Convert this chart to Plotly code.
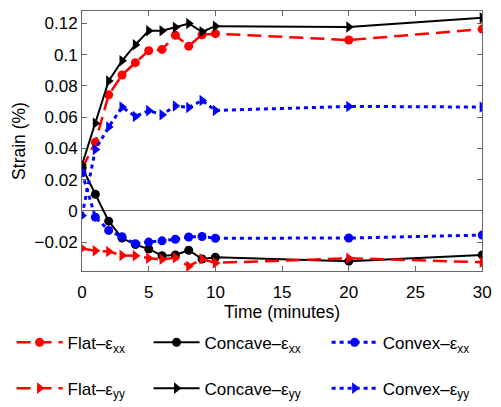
import plotly.graph_objects as go

t = [0, 1, 2, 3, 4, 5, 6, 7, 8, 9, 10, 20, 30]

flat_xx = [0.027, 0.044, 0.0743, 0.087, 0.0949, 0.1026, 0.1034, 0.1125, 0.1055, 0.1128, 0.1135, 0.1094, 0.1164]
flat_yy = [-0.024, -0.0255, -0.026, -0.0285, -0.0287, -0.0303, -0.031, -0.030, -0.0354, -0.0308, -0.0333, -0.0303, -0.0329]
concave_xx = [0.028, 0.0106, -0.0066, -0.0174, -0.0216, -0.0244, -0.0287, -0.0282, -0.0252, -0.0308, -0.0297, -0.0322, -0.0282]
concave_yy = [0.0295, 0.0561, 0.0832, 0.0961, 0.1064, 0.1153, 0.1153, 0.1176, 0.1200, 0.1147, 0.1183, 0.1178, 0.1236]
convex_xx = [0.0244, -0.0040, -0.0125, -0.0165, -0.0210, -0.0200, -0.0192, -0.0182, -0.0167, -0.0164, -0.0175, -0.0174, -0.0155]
convex_yy = [-0.0030, 0.0393, 0.0537, 0.0665, 0.0605, 0.0642, 0.0616, 0.0672, 0.0662, 0.0707, 0.0643, 0.0669, 0.0665]

names = ["Flat–ε<sub>xx</sub>", "Concave–ε<sub>xx</sub>", "Convex–ε<sub>xx</sub>",
         "Flat–ε<sub>yy</sub>", "Concave–ε<sub>yy</sub>", "Convex–ε<sub>yy</sub>"]

series = [flat_xx, concave_xx, convex_xx, flat_yy, concave_yy, convex_yy]
colors = ["#ff0000", "#000000", "#0000ff", "#ff0000", "#000000", "#0000ff"]
dashes = ["14px,7px", "solid", "4px,4px", "14px,7px", "solid", "4px,4px"]
symbols = ["circle", "circle", "circle", "triangle-right", "triangle-right", "triangle-right"]
widths = [2.5, 2, 3, 2.5, 2, 3]
legend_ids = ["legend", "legend2", "legend3", "legend4", "legend5", "legend6"]
legend_x = [-0.1718, 0.1623, 0.5967, -0.1718, 0.1623, 0.5967]
legend_y = [-0.207, -0.207, -0.207, -0.383, -0.383, -0.383]

fig = go.Figure()
for y, n, c, d, s, w, lg in zip(series, names, colors, dashes, symbols, widths, legend_ids):
    fig.add_trace(go.Scatter(
        x=t, y=y, name=n, mode="lines+markers",
        line=dict(color=c, dash=d, width=w),
        marker=dict(color=c, symbol=s, size=9 if s == "circle" else 10),
        legend=lg,
    ))

FONT = "Liberation Sans, Arial, sans-serif"
axis_common = dict(
    showline=True, linecolor="#666", linewidth=1, mirror="ticks",
    ticks="inside", ticklen=5, tickcolor="#666", showgrid=False,
    tickfont=dict(family=FONT, size=17, color="black"),
)

legend_layout = {}
for lg, lx, ly in zip(legend_ids, legend_x, legend_y):
    legend_layout[lg] = dict(orientation="v", xanchor="left", yanchor="top", x=lx, y=ly,
                             font=dict(size=17), bgcolor="rgba(0,0,0,0)", itemwidth=46)

fig.update_layout(
    width=501, height=407,
    margin=dict(l=82, r=0, t=11, b=135),
    paper_bgcolor="white", plot_bgcolor="white",
    font=dict(family=FONT, size=17, color="black"),
    xaxis=dict(range=[0, 30], domain=[0, 0.9761], tickvals=[0, 5, 10, 15, 20, 25, 30],
               ticklabelstandoff=6,
               title=dict(text="Time (minutes)", font=dict(size=17.5), standoff=0),
               zeroline=False, **axis_common),
    yaxis=dict(range=[-0.0385, 0.128], tickvals=[-0.02, 0, 0.02, 0.04, 0.06, 0.08, 0.1, 0.12],
               ticktext=["−0.02", "0", "0.02", "0.04", "0.06", "0.08", "0.1", "0.12"],
               title=dict(text="Strain (%)", font=dict(size=17.5), standoff=4),
               zeroline=True, zerolinecolor="#666", zerolinewidth=1, **axis_common),
    showlegend=True,
    **legend_layout,
)

fig.write_html("out.html")
